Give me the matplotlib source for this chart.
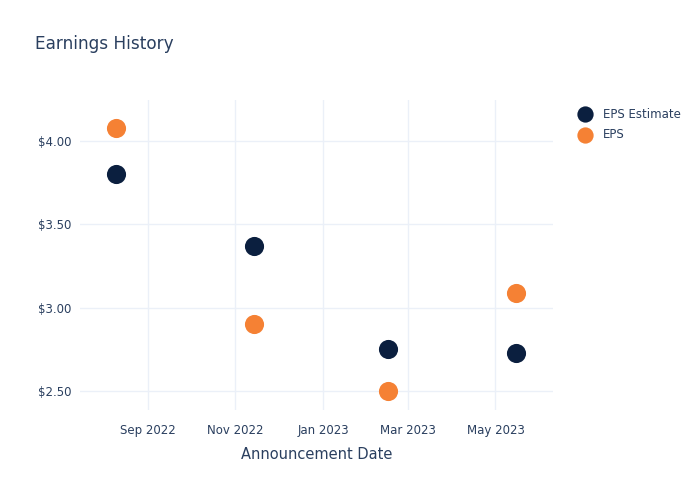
import numpy as np
import matplotlib.pyplot as plt

dates = np.array(["2022-08-10", "2022-11-14", "2023-02-15", "2023-05-15"], dtype="datetime64[D]")
eps_estimate = [3.80, 3.37, 2.75, 2.73]
eps_actual = [4.08, 2.90, 2.50, 3.09]
tick_dates = np.array(["2022-09-01", "2022-11-01", "2023-01-01", "2023-03-01", "2023-05-01"], dtype="datetime64[D]")
tick_labels = ["Sep 2022", "Nov 2022", "Jan 2023", "Mar 2023", "May 2023"]
y_ticks = [2.5, 3.0, 3.5, 4.0]

txt = "#2a3f5f"
grid = "#ebf0f8"

fig = plt.figure(figsize=(7, 5), dpi=100)
ax = fig.add_axes([80/700, 90/500, 473/700, 310/500])

ax.scatter(dates, eps_estimate, s=190, color="#0b1f3f", label="EPS Estimate", zorder=3, linewidths=0)
ax.scatter(dates, eps_actual, s=190, color="#f58134", label="EPS", zorder=3, linewidths=0)

ax.set_xlim(np.datetime64("2022-07-16"), np.datetime64("2023-06-10"))
ax.set_ylim(2.386, 4.246)
ax.set_xticks(tick_dates)
ax.set_xticklabels(tick_labels)
ax.set_yticks(y_ticks)
ax.set_yticklabels([f"${v:.2f}" for v in y_ticks])
ax.tick_params(colors=txt, labelsize=8.5, length=0, pad=6)
ax.tick_params(axis="x", pad=10)
ax.grid(color=grid, linewidth=1)
ax.set_axisbelow(True)
for s in ax.spines.values():
    s.set_visible(False)

ax.set_xlabel("Announcement Date", color=txt, fontsize=10.5, labelpad=7)
fig.text(35/700, 1 - 44/500, "Earnings History", color=txt, fontsize=12.2, va="center")

leg = ax.legend(loc="upper left", bbox_to_anchor=(1.02, 1.01), frameon=False,
                fontsize=8.5, labelcolor=txt, markerscale=0.85, handletextpad=0.5,
                labelspacing=0.6)

fig.savefig("out.png", dpi=100)
